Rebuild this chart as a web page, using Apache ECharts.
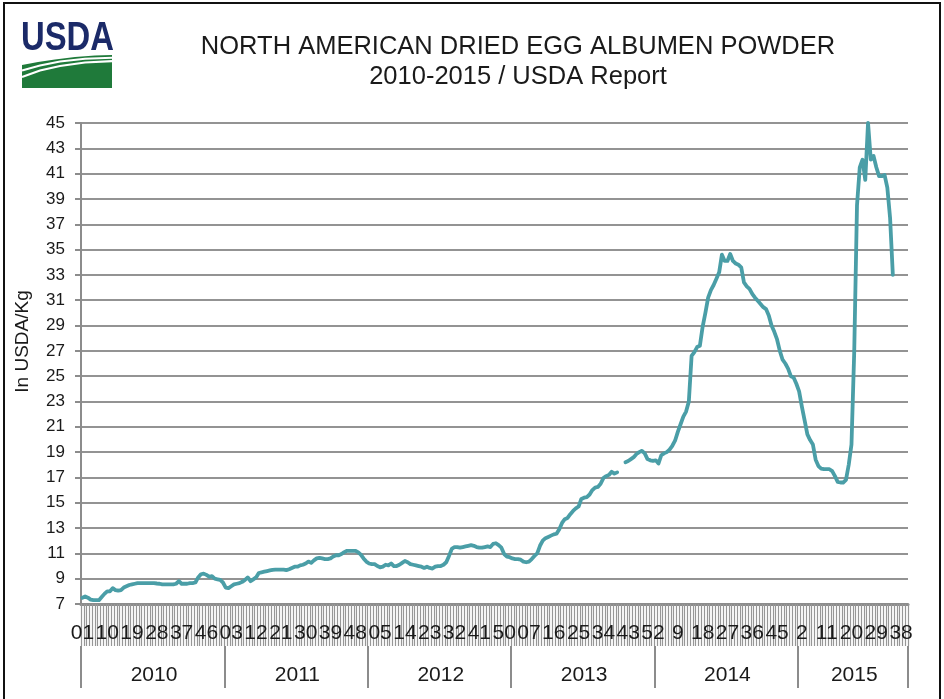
<!DOCTYPE html>
<html>
<head>
<meta charset="utf-8">
<script src="https://cdn.jsdelivr.net/npm/echarts@6/dist/echarts.min.js"></script>
<style>
html,body{margin:0;padding:0;background:#fff;}
#chart{width:944px;height:699px;}
</style>
</head>
<body>
<div id="chart"></div>
<script>
// ---- data (USD/Kg, weekly) ----
const years = ['2010', '2011', '2012', '2013', '2014', '2015'];
const weeksPerYear = [52, 52, 52, 52, 52, 40];
const zeroPadWeeks = [true, true, true, true, false, false];

const d2010 = [7.5,7.6,7.5,7.35,7.3,7.3,7.3,7.55,7.8,8.0, 8.0,8.25,8.1,8.05,8.1,8.3,8.4,8.5,8.55,8.6,
  8.65,8.65,8.65,8.65,8.65,8.65,8.65,8.62,8.6,8.55, 8.55,8.55,8.55,8.55,8.6,8.8,8.6,8.6,8.6,8.65,
  8.65,8.7,9.1,9.35,9.4,9.3,9.15,9.2,9.0,8.95, 8.9,8.7];
const d2011 = [8.3,8.25,8.4,8.55,8.6,8.65,8.75,8.9,9.1,8.8, 8.95,9.1,9.45,9.5,9.55,9.6,9.65,9.7,9.72,9.72,
  9.72,9.72,9.68,9.75,9.85,9.95,9.95,10.05,10.1,10.2, 10.35,10.25,10.45,10.6,10.65,10.6,10.55,10.55,10.6,10.75,
  10.85,10.85,10.95,11.1,11.2,11.2,11.2,11.2,11.1,10.9, 10.6,10.35];
const d2012 = [10.2,10.15,10.15,10.0,9.9,9.95,10.1,10.05,10.2,10.0, 10.0,10.1,10.25,10.4,10.3,10.15,10.1,10.05,10.0,9.95,
  9.85,9.95,9.85,9.8,9.95,10.0,10.0,10.1,10.3,10.8, 11.35,11.5,11.5,11.45,11.5,11.55,11.6,11.65,11.6,11.5,
  11.45,11.45,11.5,11.55,11.5,11.75,11.8,11.65,11.45,10.95, 10.75,10.7];
const d2013 = [10.6,10.55,10.55,10.5,10.35,10.3,10.35,10.55,10.8,11.0, 11.6,12.0,12.2,12.3,12.4,12.5,12.55,12.9,13.4,13.7,
  13.8,14.1,14.35,14.55,14.7,15.3,15.4,15.45,15.65,16.0, 16.2,16.25,16.5,16.95,17.1,17.2,17.45,17.3,17.4,null,
  null,18.2,18.3,18.45,18.6,18.85,19.0,19.1,18.9,18.45, 18.35,18.3];
const d2014 = [18.35,18.1,18.75,18.9,19.0,19.2,19.5,19.9,20.6,21.2, 21.8,22.2,23.0,26.6,26.9,27.3,27.4,28.9,30.0,31.2,
  31.8,32.2,32.7,33.2,34.6,34.1,34.1,34.65,34.1,33.9, 33.8,33.6,32.4,32.1,31.9,31.5,31.2,30.95,30.7,30.45,
  30.3,29.8,29.0,28.5,27.9,27.0,26.3,26.0,25.6,25.0, 24.9,24.4];
const d2015 = [23.8,22.6,21.5,20.4,19.95,19.6,18.4,17.9,17.7,17.65, 17.65,17.65,17.5,17.1,16.65,16.6,16.6,16.8,18.0,19.6,
  27.0,38.5,41.5,42.1,40.5,45.0,42.1,42.4,41.5,40.8, 40.8,40.9,39.9,37.5,33.0,null,null,null,null,null];

const yTicks = { min: 7, max: 45, step: 2 };
const titleLines = ['NORTH AMERICAN DRIED EGG ALBUMEN POWDER', '2010-2015 / USDA Report'];
const yName = 'In USDA/Kg';

// ---- build categories ----
const values = [].concat(d2010, d2011, d2012, d2013, d2014, d2015);
const weekCats = [];
const yearCats = [];
const yearStart = [];
const yearMid = [];
years.forEach((y, k) => {
  yearStart.push(weekCats.length);
  yearMid.push(weekCats.length + Math.floor(weeksPerYear[k] / 2));
  for (let w = 1; w <= weeksPerYear[k]; w++) {
    const lab = zeroPadWeeks[k] && w < 10 ? '0' + w : String(w);
    weekCats.push(lab + '|' + y);
    yearCats.push(y + '|' + w);
  }
});

const FONT = '"Liberation Sans", Arial, Helvetica, sans-serif';
const TXT = '#1a1a1a';
const GRAY = '#8c8c8c';
const GREEN = '#1f7a3a';

const chart = echarts.init(document.getElementById('chart'), null, { renderer: 'canvas' });
chart.setOption({
  animation: false,
  backgroundColor: '#fff',
  textStyle: { fontFamily: FONT },
  title: {
    text: titleLines.join('\n'),
    left: 513, top: 27, textAlign: 'center',
    textStyle: { fontFamily: FONT, fontSize: 25.5, fontWeight: 'normal', color: TXT, lineHeight: 30 }
  },
  grid: { left: 81, right: 36, top: 123, bottom: 95 },
  xAxis: [
    {
      type: 'category', data: weekCats, boundaryGap: true, position: 'bottom',
      axisLine: { show: true, lineStyle: { color: GRAY, width: 3 } },
      axisTick: { show: true, interval: 0, length: 42, lineStyle: { color: '#979797', width: 1.2 } },
      axisLabel: {
        interval: 8, margin: 19, fontSize: 21, color: TXT, fontFamily: FONT, hideOverlap: false,
        formatter: v => v.split('|')[0]
      },
      splitLine: { show: false }
    },
    {
      type: 'category', data: yearCats, boundaryGap: true, position: 'bottom', offset: 42,
      axisLine: { show: false },
      axisTick: {
        show: true, length: 42, lineStyle: { color: GRAY, width: 2 },
        interval: (i) => yearStart.indexOf(i) >= 0
      },
      axisLabel: {
        margin: 19, fontSize: 21, color: TXT, fontFamily: FONT, hideOverlap: false,
        interval: (i) => yearMid.indexOf(i) >= 0,
        formatter: v => v.split('|')[0]
      },
      splitLine: { show: false }
    }
  ],
  yAxis: {
    type: 'value', min: yTicks.min, max: yTicks.max, interval: yTicks.step,
    name: yName, nameLocation: 'middle', nameGap: 49,
    nameTextStyle: { fontSize: 19, color: TXT, fontFamily: FONT, padding: [0, 0, 0, 44] },
    axisLine: { show: true, lineStyle: { color: GRAY, width: 2 } },
    axisTick: { show: true, length: 6, lineStyle: { color: GRAY, width: 2 } },
    axisLabel: { fontSize: 17, color: TXT, margin: 16, fontFamily: FONT },
    splitLine: { show: true, lineStyle: { color: '#939393', width: 2 } }
  },
  series: [{
    type: 'line', xAxisIndex: 0, data: values, showSymbol: false, symbol: 'none',
    connectNulls: false, smooth: false,
    lineStyle: { color: '#4a9ea7', width: 3.8, join: 'round', cap: 'round' },
    z: 5
  }],
  graphic: [
    { type: 'rect', shape: { x: 4, y: 3, width: 936, height: 720 }, style: { fill: 'none', stroke: '#111', lineWidth: 2 }, z: 100 },
    { type: 'text', x: 21, y: 18, scaleX: 0.8, style: { text: 'USDA', font: 'bold 41px "Liberation Sans Narrow", "Liberation Sans", sans-serif', fill: '#1b2a68' }, z: 100 },
    { type: 'polygon', shape: { points: [[22,88],[112,88],[112,55],[95,55.5],[75,57],[55,59.5],[38,62],[22,65]] }, style: { fill: GREEN }, z: 100 },
    { type: 'polyline', shape: { points: [[22,70.5],[40,65.5],[60,61.5],[85,58.8],[112,57.8]] }, style: { stroke: '#fff', lineWidth: 2, fill: 'none' }, z: 101 },
    { type: 'polyline', shape: { points: [[22,77],[40,70.5],[60,66],[85,62.5],[112,61.2]] }, style: { stroke: '#fff', lineWidth: 2.2, fill: 'none' }, z: 101 }
  ]
});
</script>
</body>
</html>
